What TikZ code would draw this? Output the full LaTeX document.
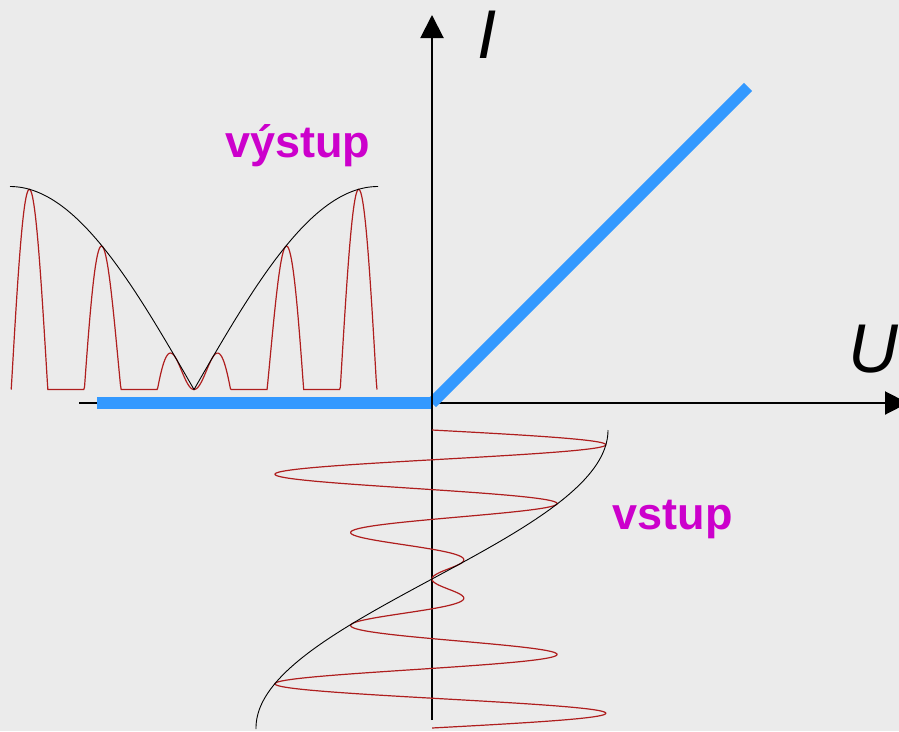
\documentclass[tikz,border=0pt]{standalone}
\usepackage{fontspec}
\setmainfont{Liberation Sans}
\usetikzlibrary{arrows.meta}
\definecolor{bg}{RGB}{235,235,235}
\definecolor{beam}{RGB}{51,153,255}
\definecolor{sig}{RGB}{175,30,30}
\definecolor{lbl}{RGB}{204,0,204}
\begin{document}
\begin{tikzpicture}[x=1pt,y=-1pt,
  axis/.style={line width=2pt,-{Triangle[length=23pt,width=23pt]}},
  beamline/.style={beam,line width=11.5pt,line cap=butt},
  carrier/.style={sig,line width=1.2pt},
  envelope/.style={black,line width=0.9pt},
  word/.style={lbl,font=\fontsize{45}{54}\selectfont\bfseries,anchor=base west,inner sep=0pt},
  axislabel/.style={font=\fontsize{69}{80}\selectfont\itshape,anchor=base,inner sep=0pt}]
\fill[bg] (0,0) rectangle (899,731);
\useasboundingbox (0,0) rectangle (899,731);
% coordinates
\coordinate (hstart) at (79,403);
\coordinate (hend) at (908,403);
\coordinate (vstart) at (432,720);
\coordinate (vend) at (432,15);
\coordinate (b0) at (97,403);
\coordinate (b1) at (432,403);
\coordinate (b2) at (748,87);
% horizontal axis (under the beam)
\draw[axis] (hstart) -- (hend);
% characteristic
\draw[beamline] (b0) -- (b1);
\draw[beamline] (b1) -- (b2);
% vertical axis
\draw[axis] (vstart) -- (vend);
% output signal
\draw[carrier] plot[domain=11.2:377,samples=500,variable=\t]
  (\t,{389.5-203*max(0,cos((180/368)*(\t-10))*sin((360/73.1)*(194-\t)))});
\draw[envelope] plot[domain=10:378,samples=369,variable=\t]
  (\t,{389.5-203*abs(cos((180/368)*(\t-10)))});
% input signal
\draw[carrier] plot[domain=430:728,samples=700,variable=\t]
  ({432+176*cos((180/298)*(\t-430))*sin((360/59.6)*(579-\t))},\t);
\draw[envelope] plot[domain=430:729,samples=200,variable=\t]
  ({432+176*cos((180/298)*(\t-430))},\t);
% labels
\node[word] (out) at (225,157.7) {výstup};
\node[word] (in) at (612.7,529.3) {vstup};
\node[axislabel] (ilbl) at (487,58.3) {I};
\node[axislabel] (ulbl) at (873.5,372) {U};
\end{tikzpicture}
\end{document}
